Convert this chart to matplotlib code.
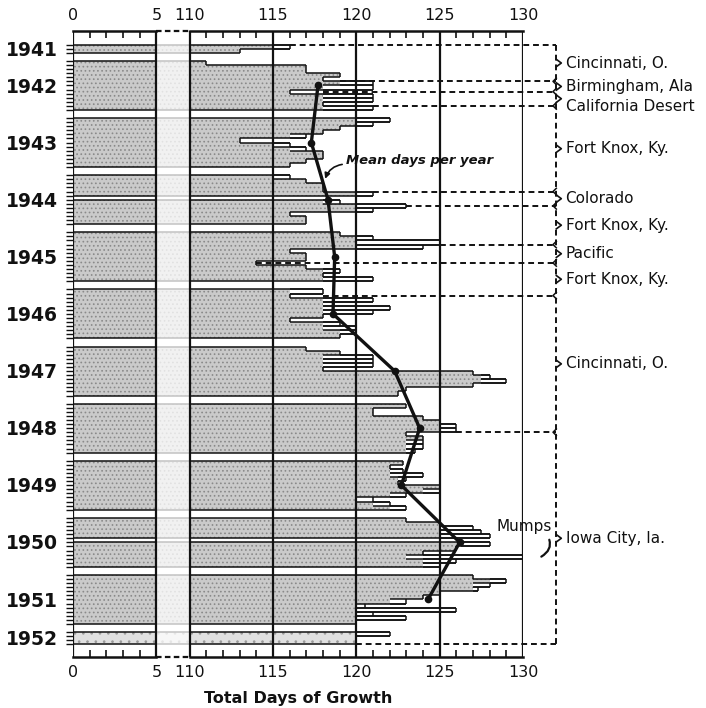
import numpy as np
import matplotlib
matplotlib.use("Agg")
import matplotlib.pyplot as plt
from matplotlib.collections import LineCollection

# ------------- Datos -------------
years = [1941, 1942, 1943, 1944, 1945, 1946, 1947, 1948, 1949, 1950, 1951, 1952]

# dias totales de crecimiento, una fila por mes (None = mes sin dato)
days_1941 = [116, 113]
days_1942 = [111, 117, 117, 119, 118, 121, 121, 116, 121, 121, 118, 121]
days_1943 = [122, 121, 119, 118, 117, 113, 116, 117, 118, 118, 117, 116]
days_1944 = [116, 117, 118, 118, 121, None, 119, 123, 121, 116, 117, 117]
days_1945 = [119, 121, 125, 124, 116, 117, 117, 114, 117, 119, 118, 121]
days_1946 = [118, 116, 121, 120, 122, 121, 118, 116, 119, 120, 120, 119]
days_1947 = [117, 119, 121, 121, 121, 118, 127, 128, 129, 127, 123, 122.5]
days_1948 = [123, 121, 121, 124, 125, 126, 126, 123, 124, 124, 124, 123.5]
days_1949 = [122.8, 122, 122.8, 124, 123, 122.5, 125, 125, 123, 121, 122, 123]
days_1950 = [123, 125, 127, 127.5, 128, None, 128, 126, 124, 131.1, 126, 125]
days_1951 = [127, 129, 128, 127.3, 125, 124, 123, 120.5, 126, 121, 123, 120]
days_1952 = [122, 120, 120]

# parte sombreada de cada fila
shade_1941 = [115, 113]
shade_1942 = [111, 117, 117, 119, 118, 119, 118, 116, 118, 118, 118, 118]
shade_1943 = [120, 120, 119, 118, 116, 113, 115, 116, 118, 118, 117, 116]
shade_1944 = [115, 117, 118, 118, 120, None, 118, 120, 120, 116, 117, 117]
shade_1945 = [119, 120, 120, 120, 116, 117, 117, 114, 117, 118, 118, 118]
shade_1946 = [116, 116, 118, 118, 118, 118, 118, 116, 118, 118, 119, 119]
shade_1947 = [117, 119, 118, 118, 118, 118, 127, 127.5, 127.5, 127, 123, 122.5]
shade_1948 = [123, 121, 121, 124, 125, 125, 125, 123, 124, 123, 123, 123]
shade_1949 = [122.8, 122, 122, 122, 122.5, 122.5, 125, 124, 122, 120, 121, 122]
shade_1950 = [123, 125, 125, 125, 125, None, 126.3, 126, 124, 123, 124, 124]
shade_1951 = [127, 128, 127, 127, 125, 124, 122, 120, 120, 120, 120, 120]
shade_1952 = [120, 120, 120]

# media anual (1942-1951)
mean_years = [1942, 1943, 1944, 1945, 1946, 1947, 1948, 1949, 1950, 1951]
mean_days = [117.7, 117.3, 118.3, 118.7, 118.6, 122.3, 123.8, 122.7, 126.2, 124.3]

# cambios de residencia: fila donde cambia y dias de la barra de donde sale la linea
change_rows = [-4, 5, 7.5, 11, 32, 35.5, 45, 49.5, 57.5, 91, 143]
change_days = [116, 119, 118, 121, 121, 123, 125, 114, 118, 126, 120]
places = ["Cincinnati, O.", "Birmingham, Ala", "California Desert", "Fort Knox, Ky.",
          "Colorado", "Fort Knox, Ky.", "Pacific", "Fort Knox, Ky.",
          "Cincinnati, O.", "Iowa City, Ia."]

tick_days = [0, 5, 110, 115, 120, 125, 130]

days = [days_1941, days_1942, days_1943, days_1944, days_1945, days_1946,
        days_1947, days_1948, days_1949, days_1950, days_1951, days_1952]
shades = [shade_1941, shade_1942, shade_1943, shade_1944, shade_1945, shade_1946,
          shade_1947, shade_1948, shade_1949, shade_1950, shade_1951, shade_1952]


def to_u(v):
    """Eje cortado: 0-5 normal, 110-130 desplazado (hueco de 2 dias)."""
    v = np.asarray(v, dtype=float)
    return np.where(v <= 5, v, v - 103)


GAP = 2
YTOP, YBOT = -7.35, 146.1
UBR = 29.0  # llave de la derecha
INK = "#111111"

plt.rcParams["hatch.linewidth"] = 0.7

# ------------- Posicion de las filas -------------
starts = []
pos = -4
for d in days:
    starts.append(pos)
    pos += len(d) + GAP

fig = plt.figure(figsize=(7.06, 7.08), dpi=100)
ax = fig.add_axes([73 / 706, 1 - 657 / 708, 450 / 706, 626 / 708])
ax.set_xlim(0, 27)
ax.set_ylim(YBOT, YTOP)
for s in ax.spines.values():
    s.set_visible(False)

# relleno gris punteado
for yr, d, sh, r0 in zip(years, days, shades, starts):
    rr, ww = [], []
    for i, (v, s) in enumerate(zip(d, sh)):
        if v is None:
            continue
        rr.append(r0 + i + 0.5)
        ww.append(float(to_u(s)))
    light = yr == 1952
    ax.barh(rr, ww, height=1.0, left=0, color="#e0e0e0" if light else "#cacaca",
            edgecolor="#9a9a9a" if light else "#8a8a8a", linewidth=0,
            hatch=".." if light else "....", zorder=1)

# contorno escalonado
segs = []
for d, sh, r0 in zip(days, shades, starts):
    vals = [0 if v is None else float(to_u(v)) for v in d]
    shs = [0 if s is None else float(to_u(s)) for s in sh]
    padded = [0] + vals + [0]
    for i in range(len(vals) + 1):
        a, b = padded[i], padded[i + 1]
        if a != b:
            segs.append([(min(a, b), r0 + i), (max(a, b), r0 + i)])
    for i, (v, s) in enumerate(zip(vals, shs)):
        if v == 0:
            continue
        segs.append([(v, r0 + i), (v, r0 + i + 1)])
        if s < v:
            segs.append([(s, r0 + i), (v, r0 + i)])
            segs.append([(s, r0 + i + 1), (v, r0 + i + 1)])
ax.add_collection(LineCollection(segs, colors=INK, linewidths=1.1, zorder=2))

# banda del corte del eje
ax.axvspan(5, 7, color="white", alpha=0.75, lw=0, zorder=3)

# lineas verticales de la reticula
ax.vlines(to_u(tick_days), YTOP, YBOT, colors=INK, lw=1.6, zorder=4)

# ejes superior e inferior con el corte punteado
for yy in (YTOP, YBOT):
    ax.plot([0, 5], [yy, yy], color=INK, lw=1.8, clip_on=False, zorder=4)
    ax.plot([5, 7], [yy, yy], color=INK, lw=1.6, ls=(0, (2.5, 1.5)), clip_on=False, zorder=4)
    ax.plot([7, 27], [yy, yy], color=INK, lw=1.8, clip_on=False, zorder=4)

ax.set_xticks(to_u(tick_days))
ax.set_xticklabels([str(t) for t in tick_days])
minor = [u for u in range(28) if u not in (0, 5, 6, 7, 12, 17, 22, 27)]
ax.set_xticks(minor, minor=True)
ax.tick_params(axis="x", which="major", length=0, top=True, bottom=True,
               labeltop=True, labelbottom=True, labelsize=11.5, pad=6, colors=INK)
ax.tick_params(axis="x", which="minor", direction="in", length=5, width=1.2,
               top=True, bottom=True, colors=INK)

# marcas de meses a la izquierda
yt = []
for d, r0 in zip(days, starts):
    yt.extend(range(r0, r0 + len(d) + 1))
ax.set_yticks(yt)
ax.set_yticklabels([])
ax.tick_params(axis="y", direction="out", length=5, width=1.0, colors=INK)

for yr, d, r0 in zip(years, days, starts):
    ax.text(-0.9, r0 + len(d) / 2 + 0.4, str(yr), ha="right", va="center",
            fontsize=13.5, fontweight="bold", color=INK, clip_on=False)

# media anual
mean_rows = [starts[years.index(y)] + len(days[years.index(y)]) / 2 for y in mean_years]
ax.plot(to_u(mean_days), mean_rows, color=INK, lw=2.4, marker="o", ms=4.5, zorder=6)
ax.annotate("Mean days per year", xy=(float(to_u(118.1)), 29.2),
            xytext=(float(to_u(119.4)), 24.3), fontsize=9.5, style="italic",
            fontweight="bold", color=INK, ha="left", va="center", zorder=7,
            arrowprops=dict(arrowstyle="-|>", connectionstyle="arc3,rad=0.35",
                            color=INK, lw=1.2, mutation_scale=8,
                            relpos=(0.0, 0.2), shrinkA=1, shrinkB=1))

# cambios de residencia y llave
for r, dd in zip(change_rows, change_days):
    ax.plot([float(to_u(dd)), UBR], [r, r], color=INK, lw=1.4,
            ls=(0, (3, 2)), clip_on=False, zorder=5)
ax.plot([UBR, UBR], [change_rows[0], change_rows[-1]], color=INK, lw=1.4,
        ls=(0, (3, 2)), clip_on=False, zorder=5)
for r in change_rows[1:-1]:
    ax.plot([UBR, UBR - 0.2, UBR], [r - 0.8, r, r + 0.8], color=INK, lw=1.1,
            clip_on=False, zorder=5)

nudge = {"California Desert": 1.8}
for i, name in enumerate(places):
    mid = (change_rows[i] + change_rows[i + 1]) / 2
    ax.plot([UBR, UBR + 0.3, UBR], [mid - 0.9, mid, mid + 0.9], color=INK, lw=1.2,
            clip_on=False, zorder=5)
    ax.text(UBR + 0.55, mid + nudge.get(name, 0), name, ha="left", va="center",
            fontsize=11, color=INK, clip_on=False)

# paperas
ax.annotate("Mumps", xy=(float(to_u(131.1)), 121.5), xytext=(27.1, 114.2),
            fontsize=11, color=INK, ha="center", va="center", zorder=7,
            annotation_clip=False,
            arrowprops=dict(arrowstyle="-", connectionstyle="arc3,rad=-0.5",
                            color=INK, lw=1.6, relpos=(0.9, 0.0),
                            shrinkA=2, shrinkB=0))

fig.text((73 + 225) / 706, 1 - 698 / 708, "Total Days of Growth", ha="center",
         va="center", fontsize=11.5, fontweight="bold", color=INK)

fig.savefig("out.png", dpi=100, facecolor="white")
